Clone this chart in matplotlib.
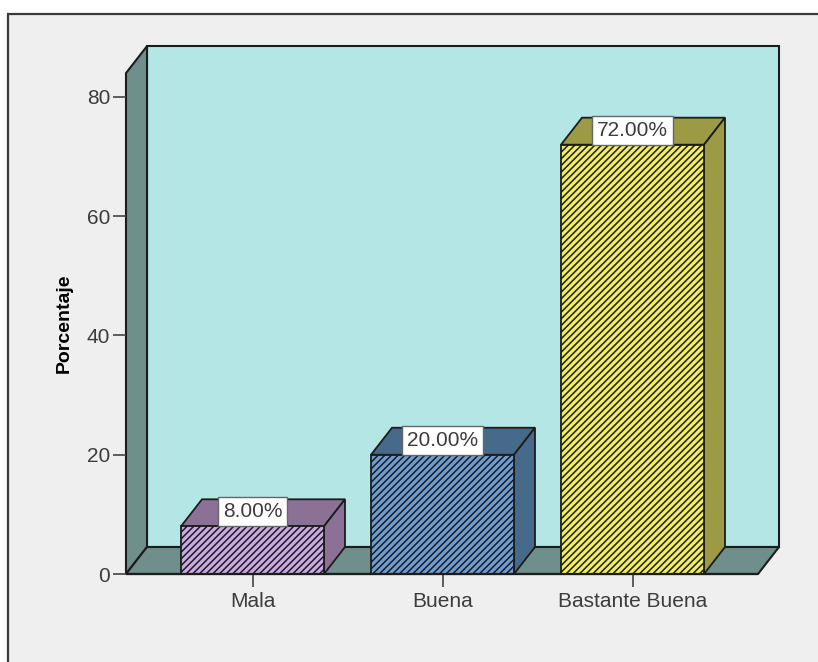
import matplotlib
matplotlib.use('Agg')
import matplotlib.pyplot as plt
from matplotlib.patches import Polygon, Rectangle

plt.rcParams['font.family'] = ['Liberation Sans', 'DejaVu Sans']
plt.rcParams['hatch.linewidth'] = 1.1

categorias = ['Mala', 'Buena', 'Bastante Buena']
porcentajes = [8.0, 20.0, 72.0]
y_ticks = [0, 20, 40, 60, 80]

caras = ['#CBA9E3', '#6D9DD2', '#F2EE62']
lados = ['#8B7196', '#486A8A', '#9C9A45']
TECHO = 84.0  # top of the front edge of the side wall
ANCHO = 0.7526
DX = 21 / 190   # depth offset in x units
DY = 27 / 5.9625  # depth offset in y units
BORDE = '#1c1c1c'

fig = plt.figure(figsize=(8.18, 6.62), dpi=100, facecolor='white')

# outer panel, kept behind the axes
fig.add_artist(Rectangle((8 / 818, -0.01), 1.0, (662 - 14) / 662 + 0.01, transform=fig.transFigure,
                         facecolor='#EFEFEF', edgecolor='#3a3a3a', linewidth=1.6, zorder=-1))

ax = fig.add_axes([126 / 818, (662 - 574) / 662, (780 - 126) / 818, (574 - 46) / 662])
ax.set_xlim(-0.6658, 2.7763)
ax.set_ylim(0, 88.55)
ax.patch.set_visible(False)
for s in ax.spines.values():
    s.set_visible(False)

x0, x1 = -0.6658, 2.6605

# back wall, side wall and floor
ax.add_patch(Polygon([(x0 + DX, DY), (x1 + DX, DY), (x1 + DX, TECHO + DY), (x0 + DX, TECHO + DY)],
                     facecolor='#B4E6E6', edgecolor=BORDE, linewidth=1.5, clip_on=False, zorder=1))
ax.add_patch(Polygon([(x0, 0), (x0 + DX, DY), (x0 + DX, TECHO + DY), (x0, TECHO)],
                     facecolor='#6E8F8C', edgecolor=BORDE, linewidth=1.5, clip_on=False, zorder=1.1))
ax.add_patch(Polygon([(x0, 0), (x0 + DX, DY), (x1 + DX, DY), (x1, 0)],
                     facecolor='#6E8F8C', edgecolor=BORDE, linewidth=1.5, clip_on=False, zorder=1.1))

# bars with their top and side faces
for i, (v, cara, lado) in enumerate(zip(porcentajes, caras, lados)):
    a, b = i - ANCHO / 2, i + ANCHO / 2
    ax.add_patch(Polygon([(a, v), (a + DX, v + DY), (b + DX, v + DY), (b, v)],
                         facecolor=lado, edgecolor=BORDE, linewidth=1.3, zorder=2))
    ax.add_patch(Polygon([(b, 0), (b + DX, DY), (b + DX, v + DY), (b, v)],
                         facecolor=lado, edgecolor=BORDE, linewidth=1.3, zorder=2))
    ax.bar(i, v, width=ANCHO, color=cara, edgecolor=BORDE, hatch='/////', linewidth=1.3, zorder=3)
    ax.annotate(f'{v:.2f}%', (i, v), xytext=(0, 3.6), textcoords='offset points',
                ha='center', va='bottom', fontsize=15, color='#3c3c3c', zorder=5,
                bbox=dict(boxstyle='square,pad=0.24', facecolor='white', edgecolor='#666666', linewidth=1))

ax.plot([x0, x1], [0, 0], color=BORDE, linewidth=1.6, zorder=4, clip_on=False, solid_capstyle='butt')

ax.set_yticks(y_ticks)
ax.set_xticks(range(len(categorias)))
ax.set_xticklabels(categorias)
ax.tick_params(axis='both', length=9.5, width=1.2, color='#444444', labelsize=15, labelcolor='#3c3c3c', pad=2)
ax.tick_params(axis='x', pad=3.5)
ax.set_ylabel('Porcentaje', fontsize=14, fontweight='bold', color='black')
ax.yaxis.set_label_coords((73 - 126) / (780 - 126), 0.475)

fig.savefig('out.png', dpi=100, facecolor=fig.get_facecolor())
